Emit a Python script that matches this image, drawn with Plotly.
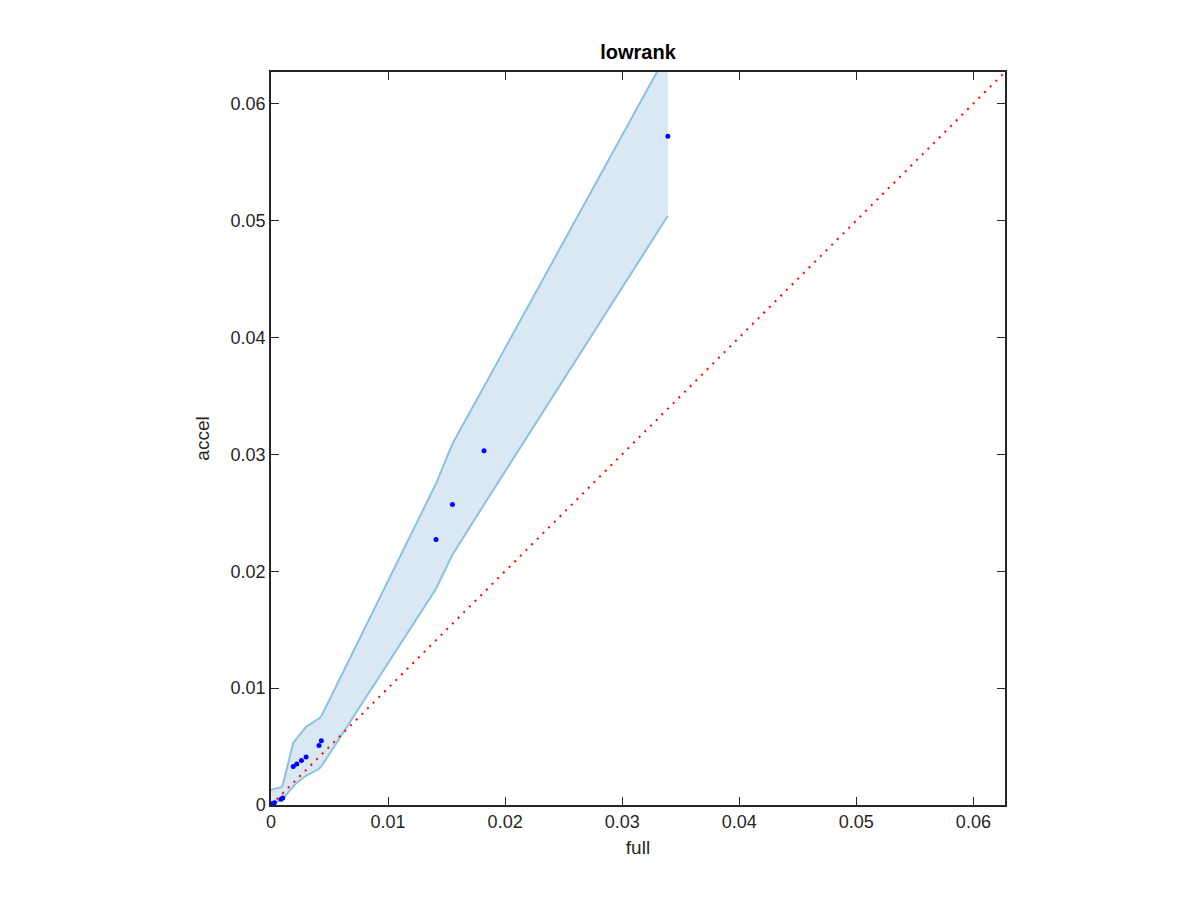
import plotly.graph_objects as go

# scatter data (full vs accel)
full_vals = [0.0, 0.0001, 0.0003, 0.00085, 0.001, 0.0019, 0.0022, 0.0026, 0.003, 0.0041, 0.0043,
             0.0141, 0.0155, 0.0182, 0.0339]
accel_vals = [0.0, 0.0001, 0.0002, 0.0005, 0.0006, 0.0033, 0.0035, 0.0038, 0.0041, 0.0051, 0.0055,
              0.0227, 0.0257, 0.0303, 0.0572]

# confidence band
band_x = [0.0, 0.0001, 0.0003, 0.00085, 0.001, 0.0019, 0.0022, 0.0026, 0.003, 0.0041, 0.0043,
          0.0141, 0.0155, 0.0182, 0.0339]
band_upper = [0.0013, 0.0013, 0.0014, 0.0015, 0.0017, 0.0053, 0.0057, 0.0062, 0.0067, 0.0074, 0.0076,
              0.0275, 0.0309, 0.0358, 0.0644]
band_lower = [0.0, 0.00005, 0.0002, 0.0004, 0.0005, 0.0016, 0.0019, 0.0022, 0.0025, 0.0031, 0.0033,
              0.0185, 0.0214, 0.0257, 0.0504]

axis_max = 0.0627
tick_vals = [0, 0.01, 0.02, 0.03, 0.04, 0.05, 0.06]
tick_text = ["0", "0.01", "0.02", "0.03", "0.04", "0.05", "0.06"]

fill_color = "rgba(217,232,243,1)"
edge_color = "#8dc1e0"

fig = go.Figure()

fig.add_trace(go.Scatter(
    x=band_x + band_x[::-1], y=band_upper + band_lower[::-1],
    fill="toself", fillcolor=fill_color, line=dict(width=0), mode="lines",
    hoverinfo="skip", showlegend=False))
fig.add_trace(go.Scatter(x=band_x, y=band_upper, mode="lines",
                         line=dict(color=edge_color, width=2), showlegend=False))
fig.add_trace(go.Scatter(x=band_x, y=band_lower, mode="lines",
                         line=dict(color=edge_color, width=2), showlegend=False))
fig.add_trace(go.Scatter(x=[0, axis_max], y=[0, axis_max], mode="lines",
                         line=dict(color="red", width=2, dash="2px,6px"), showlegend=False))
fig.add_trace(go.Scatter(x=full_vals, y=accel_vals, mode="markers",
                         marker=dict(color="blue", size=5), showlegend=False))

axis_common = dict(
    range=[0, axis_max], tickvals=tick_vals, ticktext=tick_text,
    ticks="inside", ticklen=8, tickwidth=1.2, tickcolor="#262626",
    showline=True, linecolor="#262626", linewidth=1.5, mirror="ticks",
    showgrid=False, zeroline=False,
    tickfont=dict(size=18, color="#262626"),
)

fig.update_layout(
    width=1200, height=900,
    margin=dict(l=263, r=203, t=64, b=103),
    plot_bgcolor="white", paper_bgcolor="white",
    font=dict(family="Liberation Sans, Arial, sans-serif", color="#262626"),
    title=dict(text="<b>lowrank</b>", xref="paper", x=0.5, xanchor="center",
               y=0.951, yanchor="middle",
               font=dict(size=20, color="black")),
    xaxis=dict(**axis_common, title=dict(text="full", font=dict(size=19), standoff=9)),
    yaxis=dict(**axis_common, title=dict(text="accel", font=dict(size=19), standoff=16)),
)

fig.write_html("out.html")
